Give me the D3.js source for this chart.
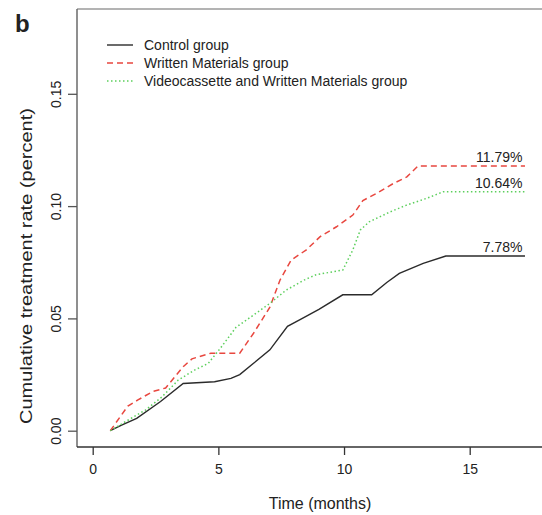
<!DOCTYPE html>
<html>
<head>
<meta charset="utf-8">
<script src="https://cdn.jsdelivr.net/npm/d3@7"></script>
<style>
  body { margin: 0; background: #fff; }
  text { font-family: "Liberation Sans", Arial, sans-serif; fill: #222; }
</style>
</head>
<body>
<div id="chart"></div>
<script>
// cumulative treatment rate by month, one pair of arrays per group
var controlMonths = [0.7, 1.15, 1.75, 2.7, 3.6, 4.85, 5.5, 5.85, 6.4, 7.05, 7.75, 8.25, 9.0, 9.95, 11.1, 11.7, 12.2, 13.15, 14.05, 17.2];
var controlRates  = [0, 0.0025, 0.0055, 0.013, 0.021, 0.0218, 0.0233, 0.025, 0.030, 0.036, 0.0465, 0.0495, 0.054, 0.0605, 0.0605, 0.066, 0.070, 0.0745, 0.0778, 0.0778];

var writtenMonths = [0.7, 1.4, 1.8, 2.4, 2.9, 3.6, 3.95, 4.7, 5.85, 6.4, 7.05, 7.45, 7.9, 8.5, 9.05, 9.7, 10.35, 10.75, 11.3, 11.95, 12.5, 12.95, 17.2];
var writtenRates  = [0, 0.011, 0.0137, 0.0175, 0.019, 0.0285, 0.032, 0.0345, 0.0345, 0.0434, 0.055, 0.067, 0.076, 0.0805, 0.0864, 0.0908, 0.096, 0.1025, 0.1057, 0.110, 0.113, 0.1179, 0.1179];

var videoMonths = [0.7, 1.3, 2.1, 2.75, 3.4, 4.05, 4.6, 5.1, 5.7, 6.4, 7.05, 7.7, 8.4, 8.9, 9.95, 10.35, 10.65, 11.0, 11.85, 12.5, 13.3, 13.95, 17.2];
var videoRates  = [0, 0.004, 0.0092, 0.015, 0.0225, 0.027, 0.030, 0.037, 0.046, 0.0515, 0.0567, 0.0626, 0.067, 0.0695, 0.0715, 0.0805, 0.0894, 0.093, 0.0975, 0.1005, 0.1035, 0.1064, 0.1064];

var groupNames = ["Control group", "Written Materials group", "Videocassette and Written Materials group"];
var endLabels = ["7.78%", "11.79%", "10.64%"];
var xTicks = [0, 5, 10, 15];
var yTicks = [0.00, 0.05, 0.10, 0.15];

var width = 542, height = 515;

var svg = d3.select("#chart").append("svg")
  .attr("width", width)
  .attr("height", height);

// plot frame (open on the right)
var frame = {left: 77, top: 9, bottom: 447};

var x = d3.scaleLinear().domain([0, 15]).range([92.7, 469.7]);
var y = d3.scaleLinear().domain([0, 0.15]).range([430.7, 93.8]);

var groups = [
  {name: groupNames[0], months: controlMonths, rates: controlRates, color: "#2b2b2b", dash: null, w: 1.4, label: endLabels[0]},
  {name: groupNames[1], months: writtenMonths, rates: writtenRates, color: "#e8473f", dash: "6,4", w: 1.5, label: endLabels[1]},
  {name: groupNames[2], months: videoMonths, rates: videoRates, color: "#5ccf5c", dash: "1.5,2.5", w: 1.5, label: endLabels[2]}
];

svg.append("line")
  .attr("x1", frame.left).attr("x2", width)
  .attr("y1", frame.top).attr("y2", frame.top)
  .attr("stroke", "#9a9a9a").attr("stroke-width", 1.5);

svg.append("line")
  .attr("x1", frame.left).attr("x2", frame.left)
  .attr("y1", frame.top).attr("y2", frame.bottom)
  .attr("stroke", "#6a6a6a").attr("stroke-width", 1.5);

svg.append("line")
  .attr("x1", frame.left).attr("x2", width)
  .attr("y1", frame.bottom).attr("y2", frame.bottom)
  .attr("stroke", "#333").attr("stroke-width", 1.5);

// x axis: ticks hang below the frame
var xAxis = svg.append("g")
  .attr("transform", "translate(0," + frame.bottom + ")")
  .call(d3.axisBottom(x).tickValues(xTicks).tickSize(8).tickPadding(9).tickFormat(d3.format("d")));
xAxis.select(".domain").remove();
xAxis.selectAll("line").attr("stroke", "#333").attr("stroke-width", 1.3);
xAxis.selectAll("text").style("font-size", "14px").attr("fill", "#222")
  .style("font-family", "'Liberation Sans', Arial, sans-serif");

// y axis with rotated tick labels
var yAxis = svg.append("g")
  .attr("transform", "translate(" + frame.left + ",0)")
  .call(d3.axisLeft(y).tickValues(yTicks).tickSize(9).tickFormat(d3.format(".2f")));
yAxis.select(".domain").remove();
yAxis.selectAll("line").attr("stroke", "#555").attr("stroke-width", 1.3);
yAxis.selectAll("text")
  .attr("x", null).attr("dy", null)
  .attr("transform", "translate(-16,0) rotate(-90)")
  .attr("text-anchor", "middle")
  .style("font-size", "14px").attr("fill", "#222")
  .style("font-family", "'Liberation Sans', Arial, sans-serif");

var line = d3.line()
  .x(function(d) { return x(d[0]); })
  .y(function(d) { return y(d[1]); });

groups.forEach(function(g) {
  var pts = d3.zip(g.months, g.rates);
  svg.append("path")
    .datum(pts)
    .attr("fill", "none")
    .attr("stroke", g.color)
    .attr("stroke-width", g.w)
    .attr("stroke-dasharray", g.dash)
    .attr("d", line);

  var last = pts[pts.length - 1];
  svg.append("text")
    .attr("x", x(17.1))
    .attr("y", y(last[1]) - 3.5)
    .attr("text-anchor", "end")
    .style("font-size", "14px")
    .text(g.label);
});

// legend
var legend = svg.append("g");
groups.forEach(function(g, i) {
  var ly = 45 + i * 18;
  legend.append("line")
    .attr("x1", 107).attr("x2", 133)
    .attr("y1", ly).attr("y2", ly)
    .attr("stroke", g.color)
    .attr("stroke-width", g.w)
    .attr("stroke-dasharray", g.dash);
  legend.append("text")
    .attr("x", 144).attr("y", ly + 5)
    .style("font-size", "14px")
    .text(g.name);
});

// axis titles and panel letter
svg.append("text")
  .attr("x", 320).attr("y", 509)
  .attr("text-anchor", "middle")
  .style("font-size", "16px")
  .text("Time (months)");

svg.append("text")
  .attr("transform", "translate(32,266) rotate(-90)")
  .attr("text-anchor", "middle")
  .attr("textLength", 316)
  .attr("lengthAdjust", "spacingAndGlyphs")
  .style("font-size", "17px")
  .text("Cumulative treatment rate (percent)");

svg.append("text")
  .attr("x", 15).attr("y", 32)
  .style("font-size", "24px")
  .style("font-weight", "bold")
  .attr("fill", "#111")
  .text("b");
</script>
</body>
</html>
